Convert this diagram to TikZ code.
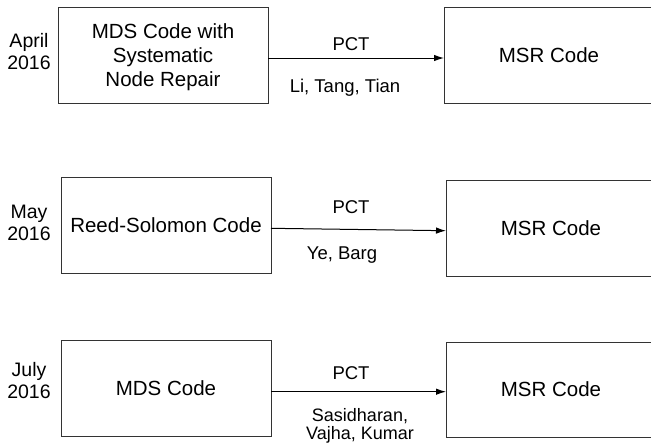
\documentclass[tikz,border=0pt]{standalone}
\usepackage{fontspec}
\setmainfont{Liberation Sans}
\usetikzlibrary{arrows.meta}
\tikzset{
  codebox/.style={draw=black!80, line width=1pt, minimum width=210pt, minimum height=96pt,
    inner sep=0pt, outer sep=0pt, align=center, text depth=0pt,
    font=\fontsize{20.5}{24}\selectfont},
  datelbl/.style={align=center, inner sep=0pt, text depth=0pt,
    font=\fontsize{19.5}{22}\selectfont},
  edgelbl/.style={align=center, inner sep=0pt, text depth=0pt,
    font=\fontsize{18.5}{18.5}\selectfont},
  arr/.style={draw=black, line width=1pt, -{Latex[length=10pt,width=6.5pt]}}
}
\begin{document}
\begin{tikzpicture}[x=1pt,y=-1pt]
\path[use as bounding box, clip] (0,0) rectangle (651,445);
\fill[white] (0,0) rectangle (651,445);
% row 1
\node[codebox] (a1) at (163,55) {MDS Code with\\Systematic\\Node Repair};
\node[codebox] (b1) at (549,55) {MSR Code};
\node[datelbl] (d1) at (29,51.5) {April\\2016};
\draw[arr] ([yshift=-3pt]a1.east) -- ([yshift=-3pt]b1.west);
\node[edgelbl] (p1) at (351,44.5) {PCT};
\node[edgelbl] (n1) at (345,85.5) {Li, Tang, Tian};
% row 2
\node[codebox] (a2) at (166,225) {Reed-Solomon Code};
\node[codebox] (b2) at (551,228) {MSR Code};
\node[datelbl] (d2) at (29,222.5) {May\\2016};
\draw[arr] ([yshift=-3.3pt]a2.east) -- ([yshift=-2.7pt]b2.west);
\node[edgelbl] (p2) at (351,207.5) {PCT};
\node[edgelbl] (n2) at (342,253) {Ye, Barg};
% row 3
\node[codebox] (a3) at (166,388) {MDS Code};
\node[codebox, minimum height=95pt] (b3) at (551,389.5) {MSR Code};
\node[datelbl] (d3) at (29,380.5) {July\\2016};
\draw[arr] ([yshift=-3.7pt]a3.east) -- ([yshift=-2.2pt]b3.west);
\node[edgelbl] (p3) at (351,373) {PCT};
\node[edgelbl, font=\fontsize{18}{18.5}\selectfont] (n3) at (360,424) {Sasidharan,\\Vajha, Kumar};
\end{tikzpicture}
\end{document}
